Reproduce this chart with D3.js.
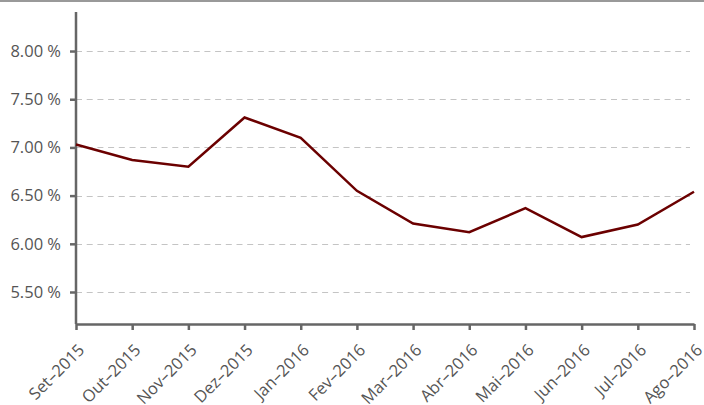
<!DOCTYPE html>
<html>
<head>
<meta charset="utf-8">
<style>
  body { margin: 0; background: #fff; }
  svg { display: block; font-family: "Open Sans", sans-serif; }
</style>
<script src="https://d3js.org/d3.v7.min.js"></script>
</head>
<body>
<svg width="704" height="405"></svg>
<script>
// monthly values (%)
var months = ["Set–2015", "Out–2015", "Nov–2015", "Dez–2015", "Jan–2016", "Fev–2016",
              "Mar–2016", "Abr–2016", "Mai–2016", "Jun–2016", "Jul–2016", "Ago–2016"];
var rates = [7.03, 6.87, 6.80, 7.31, 7.10, 6.55, 6.21, 6.12, 6.37, 6.07, 6.20, 6.54];
var yTicks = [5.5, 6.0, 6.5, 7.0, 7.5, 8.0];

var svg = d3.select("svg");
var mLeft = 76, mRight = 694, mTop = 12, mBottom = 324;

var x = d3.scalePoint().domain(months).range([mLeft, mRight]);
var y = d3.scaleLinear().domain([5.168, 8.405]).range([mBottom, mTop]);

// top border
svg.append("line")
   .attr("x1", 0).attr("x2", 704).attr("y1", 1).attr("y2", 1)
   .attr("stroke", "#777").attr("stroke-width", 1.5);

// grid
svg.append("g").selectAll("line")
   .data(yTicks)
   .enter().append("line")
   .attr("x1", mLeft).attr("x2", 690)
   .attr("y1", function(d) { return Math.round(y(d)) + 0.5; })
   .attr("y2", function(d) { return Math.round(y(d)) + 0.5; })
   .attr("stroke", "#c4c4c4")
   .attr("stroke-dasharray", "6,4.7");

// y axis
var yAxis = svg.append("g")
   .attr("transform", "translate(" + mLeft + ",0)")
   .call(d3.axisLeft(y).tickValues(yTicks).tickSize(6).tickPadding(10)
         .tickFormat(function(d) { return d3.format(".2f")(d) + " %"; }));
yAxis.select(".domain").attr("d", "M0," + mTop + "V" + mBottom);
yAxis.selectAll("text").attr("font-size", "16.5px").attr("x", -15);

// x axis
var xAxis = svg.append("g")
   .attr("transform", "translate(0," + mBottom + ")")
   .call(d3.axisBottom(x).tickSize(6).tickSizeOuter(0));
xAxis.selectAll("text")
   .attr("x", 0).attr("y", 0).attr("dy", 0)
   .attr("text-anchor", "end")
   .attr("transform", "translate(9,27) rotate(-45)")
   .attr("font-size", "16.5px");

svg.selectAll(".domain, .tick line")
   .attr("stroke", "#666").attr("stroke-width", 2.5);
svg.selectAll(".tick text")
   .attr("fill", "#555")
   .attr("font-family", "Open Sans, sans-serif");

// line
var line = d3.line()
   .x(function(d, i) { return x(months[i]); })
   .y(function(d) { return y(d); });

svg.append("path")
   .datum(rates)
   .attr("d", line)
   .attr("fill", "none")
   .attr("stroke", "#6b0000")
   .attr("stroke-width", 2.5);
</script>
</body>
</html>
